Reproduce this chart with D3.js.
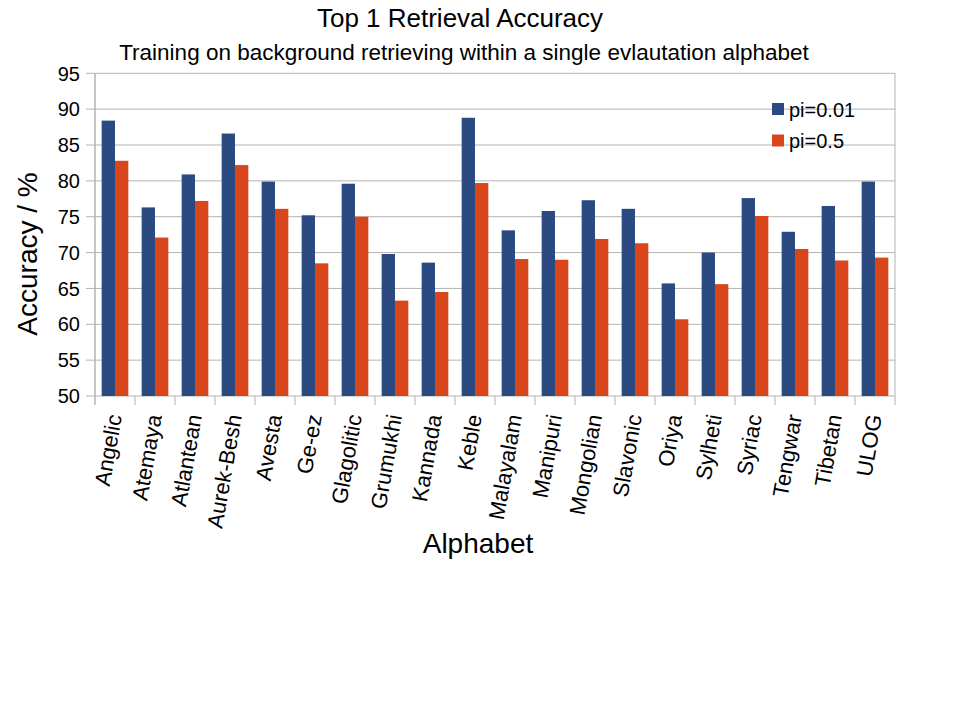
<!DOCTYPE html>
<html>
<head>
<meta charset="utf-8">
<script src="https://cdn.jsdelivr.net/npm/d3@7"></script>
<style>
  body { margin: 0; background: #fff; }
  text { font-family: "Liberation Sans", Arial, sans-serif; fill: #000; }
</style>
</head>
<body>
<svg id="chart" width="960" height="720"></svg>
<script>
var alphabets = ['Angelic', 'Atemaya', 'Atlantean', 'Aurek-Besh', 'Avesta', 'Ge-ez', 'Glagolitic',
    'Grumukhi', 'Kannada', 'Keble', 'Malayalam', 'Manipuri', 'Mongolian', 'Slavonic', 'Oriya',
    'Sylheti', 'Syriac', 'Tengwar', 'Tibetan', 'ULOG'];
var seriesNames = ['pi=0.01', 'pi=0.5'];
var pi001 = [88.4, 76.3, 80.9, 86.6, 79.9, 75.2, 79.6, 69.8, 68.6, 88.8,
    73.1, 75.8, 77.3, 76.1, 65.7, 70.0, 77.6, 72.9, 76.5, 79.9];
var pi05 = [82.8, 72.1, 77.2, 82.2, 76.1, 68.5, 75.0, 63.3, 64.5, 79.7,
    69.1, 69.0, 71.9, 71.3, 60.7, 65.6, 75.1, 70.5, 68.9, 69.3];
var yTicks = [50, 55, 60, 65, 70, 75, 80, 85, 90, 95];
var colors = ['#2c4a82', '#da461c'];

(function() {
    var svg = d3.select('#chart');
    var left = 95, right = 895, top = 73.3, bottom = 396;
    var grid = '#b3b3b3';

    var x = d3.scaleBand().domain(alphabets).range([left, right])
        .paddingInner(1 / 3).paddingOuter(1 / 6);
    var xs = d3.scaleBand().domain(seriesNames).range([0, x.bandwidth()]);
    var y = d3.scaleLinear().domain([50, 95]).range([bottom, top]);
    var step = x.step();
    var edge = function(c) { return x(c) - step * x.paddingOuter(); };

    // gridlines
    svg.append('g').selectAll('line').data(yTicks).join('line')
        .attr('x1', left - 9).attr('x2', right)
        .attr('y1', d => y(d)).attr('y2', d => y(d))
        .attr('stroke', grid).attr('stroke-width', 1);

    // y tick labels
    svg.append('g').selectAll('text').data(yTicks).join('text')
        .attr('x', 80).attr('y', d => y(d)).attr('dy', '0.36em')
        .attr('text-anchor', 'end').attr('font-size', 20)
        .text(d => d);

    // frame sides
    svg.append('line').attr('x1', left).attr('x2', left).attr('y1', top).attr('y2', bottom + 9)
        .attr('stroke', grid).attr('stroke-width', 1.5);
    svg.append('line').attr('x1', right).attr('x2', right).attr('y1', top).attr('y2', bottom + 9)
        .attr('stroke', grid).attr('stroke-width', 1);

    // x ticks at category edges
    svg.append('g').selectAll('line').data(alphabets.slice(1)).join('line')
        .attr('x1', d => edge(d)).attr('x2', d => edge(d))
        .attr('y1', bottom).attr('y2', bottom + 9)
        .attr('stroke', grid).attr('stroke-width', 1);

    // bars
    var groups = svg.append('g').selectAll('g').data(alphabets).join('g')
        .attr('transform', d => 'translate(' + x(d) + ',0)');
    groups.selectAll('rect')
        .data((d, i) => [{ s: seriesNames[0], v: pi001[i] }, { s: seriesNames[1], v: pi05[i] }])
        .join('rect')
        .attr('x', d => xs(d.s))
        .attr('y', d => y(d.v))
        .attr('width', xs.bandwidth())
        .attr('height', d => bottom - y(d.v))
        .attr('fill', (d, i) => colors[i]);

    // x labels
    svg.append('g').selectAll('text').data(alphabets).join('text')
        .attr('transform', d => 'translate(' + (x(d) + x.bandwidth() / 2 + 7) + ',416) rotate(-80)')
        .attr('text-anchor', 'end').attr('font-size', 22)
        .text(d => d);

    // titles
    svg.append('text').attr('x', 460).attr('y', 27).attr('text-anchor', 'middle')
        .attr('font-size', 26).text('Top 1 Retrieval Accuracy');
    svg.append('text').attr('x', 464).attr('y', 60).attr('text-anchor', 'middle')
        .attr('font-size', 22.5).text('Training on background retrieving within a single evlautation alphabet');
    svg.append('text').attr('x', 478).attr('y', 553).attr('text-anchor', 'middle')
        .attr('font-size', 28).text('Alphabet');
    svg.append('text').attr('transform', 'translate(37,254) rotate(-90)').attr('text-anchor', 'middle')
        .attr('font-size', 28).text('Accuracy / %');

    // legend
    var legend = svg.append('g').selectAll('g').data(seriesNames).join('g')
        .attr('transform', (d, i) => 'translate(772,' + (103 + i * 31.5) + ')');
    legend.append('rect').attr('width', 12).attr('height', 12)
        .attr('fill', (d, i) => colors[i]);
    legend.append('text').attr('x', 17).attr('y', 13.5).attr('font-size', 20)
        .text(d => d);
})();
</script>
</body>
</html>
